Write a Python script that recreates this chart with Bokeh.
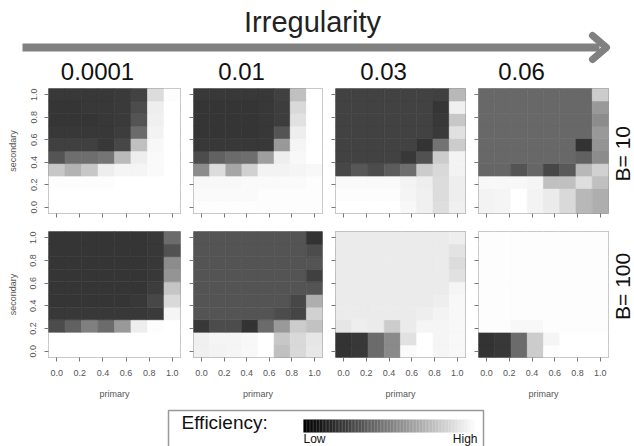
import math
from bokeh.plotting import figure
from bokeh.layouts import column, row
from bokeh.models import (Range1d, FixedTicker, PrintfTickFormatter, ColumnDataSource,
                          CustomLabelingPolicy)
from bokeh.palettes import Greys256
from bokeh.transform import linear_cmap
from bokeh.embed import file_html
from bokeh.resources import INLINE
from bokeh.core.properties import value

FONT = "Liberation Sans"

# ---------------- data ----------------
irregularity_labels = ["0.0001", "0.01", "0.03", "0.06"]
b_labels = ["B= 10", "B= 100"]
primary = [0.0, 0.143, 0.286, 0.429, 0.571, 0.714, 0.857, 1.0]
secondary = [0.0, 0.111, 0.222, 0.333, 0.444, 0.556, 0.667, 0.778, 0.889, 1.0]
tick_vals = [0.0, 0.2, 0.4, 0.6, 0.8, 1.0]

# efficiency grids: rows listed from secondary = 1.0 (top) down to 0.0 (bottom)
eff_b10_i0001 = [
    [0.22, 0.22, 0.22, 0.22, 0.23, 0.26, 0.86, 0.99],
    [0.21, 0.21, 0.22, 0.22, 0.23, 0.30, 0.93, 1.00],
    [0.21, 0.21, 0.21, 0.22, 0.23, 0.33, 0.94, 1.00],
    [0.22, 0.22, 0.22, 0.22, 0.24, 0.42, 0.95, 1.00],
    [0.25, 0.25, 0.25, 0.22, 0.28, 0.75, 0.97, 1.00],
    [0.33, 0.43, 0.43, 0.46, 0.73, 0.93, 0.98, 1.00],
    [0.78, 0.70, 0.78, 0.93, 0.96, 0.96, 0.98, 1.00],
    [0.99, 0.99, 0.99, 0.99, 1.00, 1.00, 1.00, 1.00],
    [1.00, 1.00, 1.00, 1.00, 1.00, 1.00, 1.00, 1.00],
    [1.00, 1.00, 1.00, 1.00, 1.00, 1.00, 1.00, 1.00],
]
eff_b10_i01 = [
    [0.22, 0.22, 0.22, 0.22, 0.22, 0.25, 0.75, 1.00],
    [0.21, 0.21, 0.21, 0.21, 0.22, 0.24, 0.85, 1.00],
    [0.21, 0.21, 0.21, 0.21, 0.22, 0.24, 0.88, 1.00],
    [0.21, 0.21, 0.21, 0.21, 0.22, 0.33, 0.93, 1.00],
    [0.22, 0.22, 0.22, 0.22, 0.22, 0.60, 0.96, 1.00],
    [0.30, 0.38, 0.42, 0.43, 0.62, 0.93, 0.97, 1.00],
    [0.55, 0.86, 0.65, 0.82, 0.95, 0.95, 0.96, 0.97],
    [0.97, 0.97, 0.97, 0.98, 0.98, 0.98, 0.98, 0.99],
    [0.98, 0.98, 0.98, 0.98, 0.99, 0.99, 0.99, 0.99],
    [0.99, 0.99, 0.99, 0.99, 0.99, 0.99, 0.99, 0.99],
]
eff_b10_i03 = [
    [0.26, 0.26, 0.26, 0.26, 0.26, 0.26, 0.25, 0.72],
    [0.26, 0.26, 0.26, 0.26, 0.26, 0.26, 0.21, 0.94],
    [0.26, 0.26, 0.26, 0.26, 0.26, 0.26, 0.22, 0.78],
    [0.26, 0.26, 0.26, 0.26, 0.26, 0.26, 0.23, 0.88],
    [0.26, 0.26, 0.26, 0.26, 0.26, 0.20, 0.45, 0.80],
    [0.26, 0.26, 0.26, 0.26, 0.22, 0.32, 0.80, 0.95],
    [0.28, 0.34, 0.30, 0.36, 0.43, 0.80, 0.85, 0.95],
    [0.98, 0.98, 0.98, 0.98, 0.95, 0.93, 0.86, 0.93],
    [0.99, 0.99, 0.99, 0.99, 0.96, 0.94, 0.86, 0.93],
    [1.00, 1.00, 1.00, 1.00, 0.97, 0.94, 0.87, 0.94],
]
eff_b10_i06 = [
    [0.41, 0.41, 0.41, 0.41, 0.41, 0.41, 0.41, 0.80],
    [0.41, 0.41, 0.41, 0.41, 0.41, 0.41, 0.41, 0.60],
    [0.41, 0.41, 0.41, 0.41, 0.41, 0.41, 0.41, 0.55],
    [0.41, 0.41, 0.41, 0.41, 0.41, 0.41, 0.41, 0.60],
    [0.41, 0.41, 0.41, 0.41, 0.41, 0.41, 0.20, 0.58],
    [0.41, 0.41, 0.41, 0.41, 0.41, 0.41, 0.38, 0.55],
    [0.40, 0.40, 0.33, 0.40, 0.28, 0.35, 0.72, 0.82],
    [0.97, 0.97, 0.97, 0.96, 0.75, 0.75, 0.87, 0.75],
    [0.95, 0.96, 1.00, 0.95, 0.92, 0.85, 0.72, 0.68],
    [0.95, 0.96, 1.00, 0.95, 0.92, 0.85, 0.72, 0.68],
]
eff_b100_i0001 = [
    [0.21, 0.21, 0.21, 0.21, 0.21, 0.21, 0.22, 0.42],
    [0.21, 0.21, 0.21, 0.21, 0.21, 0.21, 0.22, 0.32],
    [0.21, 0.21, 0.21, 0.21, 0.21, 0.21, 0.22, 0.55],
    [0.21, 0.21, 0.21, 0.21, 0.21, 0.21, 0.22, 0.58],
    [0.21, 0.21, 0.21, 0.21, 0.21, 0.21, 0.24, 0.77],
    [0.21, 0.21, 0.21, 0.21, 0.21, 0.22, 0.28, 0.85],
    [0.22, 0.22, 0.22, 0.22, 0.22, 0.22, 0.23, 0.96],
    [0.30, 0.38, 0.50, 0.42, 0.60, 0.93, 0.99, 1.00],
    [1.00, 1.00, 1.00, 1.00, 1.00, 1.00, 1.00, 1.00],
    [1.00, 1.00, 1.00, 1.00, 1.00, 1.00, 1.00, 1.00],
]
eff_b100_i01 = [
    [0.33, 0.33, 0.33, 0.33, 0.33, 0.33, 0.33, 0.20],
    [0.33, 0.33, 0.33, 0.33, 0.33, 0.33, 0.33, 0.30],
    [0.33, 0.33, 0.33, 0.33, 0.33, 0.33, 0.33, 0.33],
    [0.33, 0.33, 0.33, 0.33, 0.33, 0.33, 0.33, 0.25],
    [0.33, 0.33, 0.33, 0.33, 0.33, 0.33, 0.33, 0.33],
    [0.33, 0.33, 0.33, 0.33, 0.33, 0.33, 0.28, 0.68],
    [0.33, 0.33, 0.33, 0.33, 0.33, 0.30, 0.27, 0.82],
    [0.22, 0.30, 0.30, 0.20, 0.42, 0.60, 0.80, 0.76],
    [0.94, 0.96, 0.96, 0.97, 1.00, 0.78, 0.85, 0.90],
    [0.94, 0.95, 0.96, 0.97, 1.00, 0.75, 0.85, 0.91],
]
eff_b100_i03 = [
    [0.92, 0.92, 0.92, 0.92, 0.92, 0.92, 0.92, 0.93],
    [0.92, 0.92, 0.92, 0.92, 0.92, 0.92, 0.92, 0.89],
    [0.92, 0.92, 0.92, 0.92, 0.92, 0.92, 0.92, 0.86],
    [0.92, 0.92, 0.92, 0.92, 0.92, 0.92, 0.92, 0.88],
    [0.92, 0.92, 0.92, 0.92, 0.92, 0.92, 0.92, 0.96],
    [0.92, 0.92, 0.92, 0.92, 0.92, 0.92, 0.93, 0.97],
    [0.92, 0.92, 0.92, 0.92, 0.92, 0.93, 0.95, 0.97],
    [0.90, 0.93, 0.92, 0.80, 0.92, 0.96, 0.96, 0.97],
    [0.20, 0.22, 0.42, 0.54, 0.88, 1.00, 0.96, 0.97],
    [0.20, 0.22, 0.42, 0.54, 0.98, 1.00, 0.96, 0.97],
]
eff_b100_i06 = [
    [0.99, 0.99, 0.99, 0.99, 0.99, 0.99, 0.99, 0.99],
    [0.99, 0.99, 0.99, 0.99, 0.99, 0.99, 0.99, 0.99],
    [0.99, 0.99, 0.99, 0.99, 0.99, 0.99, 0.99, 0.99],
    [0.99, 0.99, 0.99, 0.99, 0.99, 0.99, 0.99, 0.99],
    [0.99, 0.99, 0.99, 0.99, 0.99, 0.99, 0.99, 0.99],
    [0.99, 0.99, 0.99, 0.99, 0.99, 0.99, 0.99, 0.99],
    [0.99, 0.99, 0.99, 0.99, 0.99, 0.99, 0.99, 0.99],
    [0.99, 0.99, 0.97, 0.97, 0.99, 0.99, 0.99, 0.99],
    [0.20, 0.22, 0.42, 0.80, 0.96, 1.00, 1.00, 1.00],
    [0.20, 0.22, 0.42, 0.80, 0.99, 1.00, 1.00, 1.00],
]

grids = [
    [eff_b10_i0001, eff_b10_i01, eff_b10_i03, eff_b10_i06],
    [eff_b100_i0001, eff_b100_i01, eff_b100_i03, eff_b100_i06],
]

# ---------------- layout helpers ----------------
FIG_W = [185, 142, 143, 139]
BORDER_L = [48, 6, 7, 6]
BORDER_R = [5, 5, 5, 1]
LABEL_W = 25
ROW_H = [138, 179]
BORDER_T = [4, 9]
BORDER_B = [9, 44]

HIDE_LABELS = "for (const i of indices) { indices.unset(i) }\nreturn indices"


def blank(width, height, xr, yr):
    p = figure(width=width, height=height, output_backend="svg", toolbar_location=None,
               x_range=Range1d(*xr), y_range=Range1d(*yr),
               x_axis_location=None, y_axis_location=None,
               min_border=0, min_border_left=0, min_border_right=0,
               min_border_top=0, min_border_bottom=0)
    p.grid.visible = False
    p.outline_line_color = None
    p.background_fill_color = "white"
    p.border_fill_color = "white"
    return p


def panel(grid, c, r):
    p = figure(width=FIG_W[c], height=ROW_H[r], output_backend="svg", toolbar_location=None,
               x_range=Range1d(-1 / 14, 1 + 1 / 14), y_range=Range1d(-1 / 18, 1 + 1 / 18),
               min_border_left=BORDER_L[c], min_border_right=BORDER_R[c],
               min_border_top=BORDER_T[r], min_border_bottom=BORDER_B[r])
    xs, ys, vs = [], [], []
    for i, rowvals in enumerate(reversed(grid)):
        for j, v in enumerate(rowvals):
            xs.append(primary[j])
            ys.append(secondary[i])
            vs.append(v)
    src = ColumnDataSource(dict(x=xs, y=ys, eff=vs))
    cmap = linear_cmap("eff", Greys256, 0, 1)
    p.rect("x", "y", width=1 / 7, height=1 / 9, source=src,
           fill_color=cmap, line_color=cmap, line_width=0.6)
    p.grid.visible = False
    p.outline_line_color = "#9a9a9a"
    p.outline_line_width = 1
    p.background_fill_color = "white"
    p.border_fill_color = "white"
    for ax in (p.xaxis[0], p.yaxis[0]):
        ax.axis_line_color = None
        ax.major_tick_line_color = "#777777"
        ax.major_tick_in = 0
        ax.major_tick_out = 4
        ax.minor_tick_line_color = None
        ax.ticker = FixedTicker(ticks=tick_vals)
        ax.formatter = PrintfTickFormatter(format="%.1f")
        ax.major_label_text_font = FONT
        ax.major_label_text_font_size = "9px"
        ax.major_label_text_color = "#555555"
        ax.major_label_standoff = 8
        ax.axis_label_text_font = FONT
        ax.axis_label_text_font_size = "9px"
        ax.axis_label_text_font_style = "normal"
        ax.axis_label_text_color = "#555555"
        ax.axis_label_standoff = 10
    p.yaxis[0].major_label_orientation = "parallel"
    if c == 0:
        p.yaxis[0].axis_label = "secondary"
    else:
        p.yaxis[0].major_label_text_font_size = "1px"
        p.yaxis[0].major_label_standoff = 0
        p.yaxis[0].major_label_policy = CustomLabelingPolicy(code=HIDE_LABELS)
    if r == 1:
        p.xaxis[0].axis_label = "primary"
    else:
        p.xaxis[0].major_label_text_font_size = "1px"
        p.xaxis[0].major_label_standoff = 0
        p.xaxis[0].major_label_policy = CustomLabelingPolicy(code=HIDE_LABELS)
    return p


# ---------------- header (page coordinates) ----------------
top = blank(634, 84, (0, 634), (84, 0))
top.text(x=[312], y=[21], text=["Irregularity"], text_font=value(FONT),
         text_font_size="29px", text_align="center", text_baseline="middle",
         text_color="#222222")
top.line(x=[22, 599], y=[47, 47], line_width=8, line_color="#808080")
top.line(x=[592, 606, 592], y=[35, 47, 59], line_width=7, line_color="#808080",
         line_join="round", line_cap="round")
top.text(x=[97, 241, 383, 521], y=[71, 71, 71, 71], text=irregularity_labels,
         text_font=value(FONT), text_font_size="24px", text_align="center",
         text_baseline="middle", text_color="#111111")

# ---------------- panel rows ----------------
rows = []
row_spans = [(222, 84), (401, 222)]
label_y = [156, 300]
for r in range(2):
    figs = [panel(grids[r][c], c, r) for c in range(4)]
    lab = blank(LABEL_W, ROW_H[r], (609, 634), row_spans[r])
    lab.text(x=[621.5], y=[label_y[r]], text=[b_labels[r]], angle=math.pi / 2,
             text_font=value(FONT), text_font_size="21px", text_align="center",
             text_baseline="middle", text_color="#111111")
    rows.append(row(*figs, lab))

# ---------------- legend ----------------
leg = blank(634, 45, (0, 634), (446, 401))
leg.line(x=[168, 168, 483, 483], y=[450, 410, 410, 450], line_color="#999999", line_width=1.5)
leg.text(x=[181], y=[422], text=["Efficiency:"], text_font=value(FONT), text_font_size="19px",
         text_align="left", text_baseline="middle", text_color="#111111")
n = 120
bar_x0, bar_w = 303, 174
gx = [bar_x0 + (k + 0.5) * bar_w / n for k in range(n)]
gv = [k / (n - 1) for k in range(n)]
gsrc = ColumnDataSource(dict(x=gx, y=[425.5] * n, v=gv))
gmap = linear_cmap("v", Greys256, 0, 1)
leg.rect("x", "y", width=bar_w / n + 0.2, height=13, source=gsrc,
         fill_color=gmap, line_color=None)
leg.text(x=[303], y=[438], text=["Low"], text_font=value(FONT), text_font_size="12px",
         text_align="left", text_baseline="middle", text_color="#111111")
leg.text(x=[477], y=[438], text=["High"], text_font=value(FONT), text_font_size="12px",
         text_align="right", text_baseline="middle", text_color="#111111")

layout = column(top, rows[0], rows[1], leg)

with open("out.html", "w") as f:
    f.write(file_html(layout, INLINE))
